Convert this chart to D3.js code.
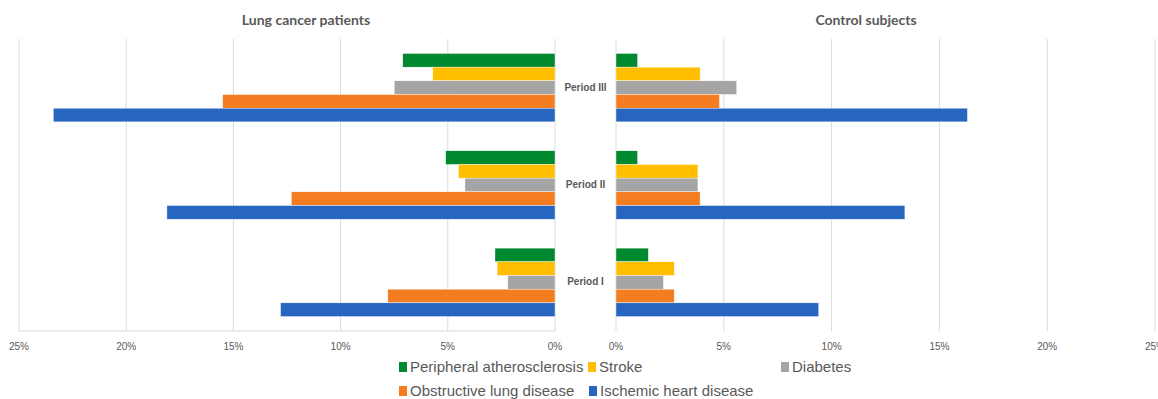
<!DOCTYPE html>
<html>
<head>
<meta charset="UTF-8">
<script src="https://d3js.org/d3.v7.min.js"></script>
<style>
  body { margin: 0; background: #fff; }
  text { fill: #595959; }
</style>
</head>
<body>
<svg id="canvas"></svg>
<script>
// data
periods = ["Period III", "Period II", "Period I"];
series = ["Peripheral atherosclerosis", "Stroke", "Diabetes", "Obstructive lung disease", "Ischemic heart disease"];
colors = ["#00892F", "#FFBF00", "#A5A5A5", "#F47D22", "#2666C0"];
ticks = [0, 5, 10, 15, 20, 25];

// one row per period, one value per series (%)
lungCancer = [
  [7.1, 5.7, 7.5, 15.5, 23.4],
  [5.1, 4.5, 4.2, 12.3, 18.1],
  [2.8, 2.7, 2.2, 7.8, 12.8]
];
controls = [
  [1.0, 3.9, 5.6, 4.8, 16.3],
  [1.0, 3.8, 3.8, 3.9, 13.4],
  [1.5, 2.7, 2.2, 2.7, 9.4]
];

width = 1158;
height = 399;
top_ = 39;
bottom = 331;

svg = d3.select("#canvas").attr("width", width).attr("height", height);

y = d3.scaleBand().domain(periods).range([top_, bottom])
  .paddingInner(0.297).paddingOuter(0.1485);
ySub = d3.scaleBand().domain(series).range([0, y.bandwidth()]);

xLeft = d3.scaleLinear().domain([0, 25]).range([555, 19]);
xRight = d3.scaleLinear().domain([0, 25]).range([616, 1155]);

function panel(x, data, title, titleX, bottomLine) {
  g = svg.append("g");
  g.selectAll("line.grid")
    .data(ticks)
    .enter().append("line")
      .attr("x1", d => x(d)).attr("x2", d => x(d))
      .attr("y1", top_).attr("y2", bottom)
      .attr("stroke", "#d9d9d9").attr("stroke-width", 1);
  if (bottomLine) {
    g.append("line")
      .attr("x1", x(25)).attr("x2", x(0))
      .attr("y1", bottom).attr("y2", bottom)
      .attr("stroke", "#d9d9d9");
  }
  periods.forEach((p, i) => {
    g.selectAll(null)
      .data(data[i])
      .enter().append("rect")
        .attr("x", d => Math.min(x(0), x(d)))
        .attr("width", d => Math.abs(x(d) - x(0)))
        .attr("y", (d, j) => y(p) + ySub(series[j]))
        .attr("height", ySub.bandwidth())
        .attr("fill", (d, j) => colors[j])
        .attr("stroke", "#fff").attr("stroke-width", 0.4);
  });
  g.selectAll("text.tick")
    .data(ticks)
    .enter().append("text")
      .attr("x", d => x(d)).attr("y", 350)
      .attr("text-anchor", "middle")
      .style("font", "10px 'Liberation Sans Narrow', sans-serif")
      .text(d => d + "%");
  g.append("text")
    .attr("x", titleX).attr("y", 25)
    .attr("text-anchor", "middle")
    .style("font", "bold 14px Lato, sans-serif")
    .text(title);
}

panel(xLeft, lungCancer, "Lung cancer patients", 306, true);
panel(xRight, controls, "Control subjects", 866, false);

// category labels in the gap between panels
svg.selectAll("text.cat")
  .data(periods)
  .enter().append("text")
    .attr("x", 585.5).attr("y", d => y(d) + y.bandwidth() / 2 + 3)
    .attr("text-anchor", "middle")
    .style("font", "bold 10px 'Liberation Sans Narrow', sans-serif")
    .text(d => d);

// legend
legendPos = [[399, 367], [588, 367], [781, 367], [399, 391], [589, 391]];
legend = svg.selectAll("g.legend")
  .data(series)
  .enter().append("g")
    .attr("transform", (d, i) => "translate(" + legendPos[i][0] + "," + legendPos[i][1] + ")");
legend.append("rect")
  .attr("x", 0).attr("y", -5).attr("width", 8).attr("height", 10)
  .attr("fill", (d, i) => colors[i]);
legend.append("text")
  .attr("x", 11).attr("y", 5)
  .style("font", "15px 'Liberation Sans Narrow', sans-serif")
  .text(d => d);
</script>
</body>
</html>
